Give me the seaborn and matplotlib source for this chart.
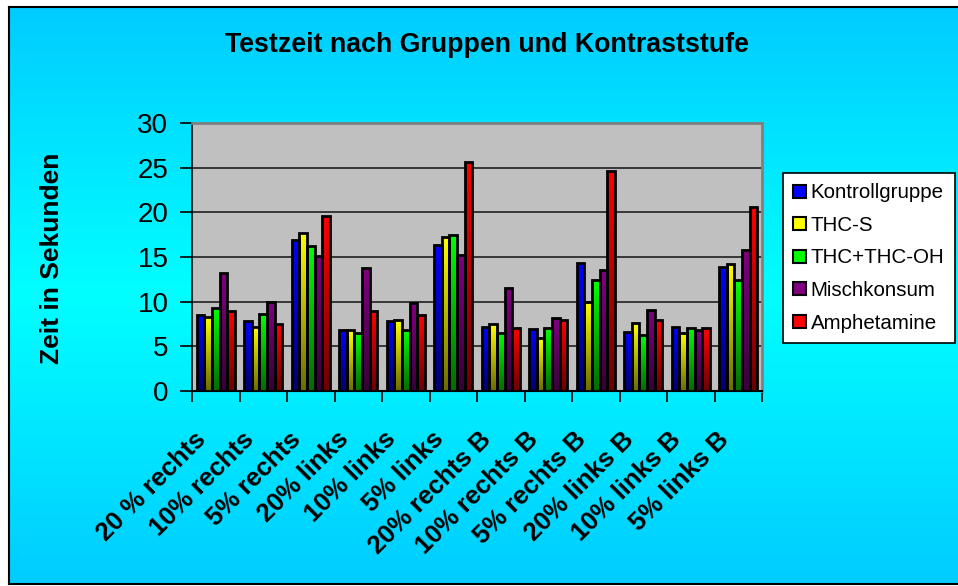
import numpy as np
import pandas as pd
import matplotlib
matplotlib.use("Agg")
import matplotlib.pyplot as plt
import matplotlib.transforms as mtransforms
import seaborn as sns
from matplotlib.colors import to_rgb
from matplotlib.patches import Rectangle

# Data
stufen = ["20 % rechts", "10% rechts", "5% rechts", "20% links", "10% links", "5% links",
          "20% rechts B", "10% rechts B", "5% rechts B", "20% links B", "10% links B", "5% links B"]
gruppen = ["Kontrollgruppe", "THC-S", "THC+THC-OH", "Mischkonsum", "Amphetamine"]
kontroll = [8.5, 7.8, 16.9, 6.8, 7.8, 16.3, 7.2, 6.9, 14.3, 6.6, 7.2, 13.9]
thc_s = [8.3, 7.2, 17.7, 6.8, 7.9, 17.2, 7.5, 5.9, 10.0, 7.6, 6.5, 14.2]
thc_oh = [9.3, 8.6, 16.2, 6.5, 6.8, 17.5, 6.5, 7.1, 12.4, 6.3, 7.1, 12.4]
misch = [13.2, 10.0, 15.1, 13.8, 9.9, 15.2, 11.5, 8.2, 13.6, 9.1, 6.8, 15.8]
amph = [9.0, 7.5, 19.6, 9.0, 8.5, 25.6, 7.0, 8.0, 24.6, 8.0, 7.0, 20.6]
farben = ["#0000FF", "#FFFF00", "#00FF00", "#800080", "#FF0000"]

df = pd.DataFrame({"Stufe": stufen * 5,
                   "Gruppe": np.repeat(gruppen, len(stufen)),
                   "Zeit": kontroll + thc_s + thc_oh + misch + amph})

plt.rcParams["font.family"] = ["Liberation Sans", "DejaVu Sans"]

fig = plt.figure(figsize=(9.58, 5.86), dpi=100, facecolor="white")

# cyan gradient background with black frame
bg = fig.add_axes([9 / 958, 1 - 584 / 586, 1 - 9 / 958, 577 / 586], zorder=-10)
t = np.linspace(0, 1, 300)
g = 0.80 + 0.20 * (1 - np.abs(t - 0.5) / 0.5)
grad = np.zeros((300, 1, 3))
grad[:, 0, 1] = g
grad[:, 0, 2] = 1.0
bg.imshow(grad, aspect="auto", extent=[0, 1, 0, 1], origin="upper")
bg.set_xticks([])
bg.set_yticks([])
for s in bg.spines.values():
    s.set_color("black")
    s.set_linewidth(1.5)
bg.spines["right"].set_visible(False)

ax = fig.add_axes([192 / 958, 1 - 391 / 586, 570 / 958, 268 / 586])
ax.set_facecolor("#C0C0C0")
sns.barplot(data=df, x="Stufe", y="Zeit", hue="Gruppe", palette=farben,
            width=0.8, edgecolor="black", linewidth=2, ax=ax, zorder=3)

# gradient fill in each bar: bright at top, dark at bottom
for cont, col in zip(ax.containers, farben):
    rgb = np.array(to_rgb(col))
    shade = np.linspace(1.0, 0.42, 100)[:, None] * rgb
    img = shade[:, None, :]
    for bar in cont:
        x, w, h = bar.get_x(), bar.get_width(), bar.get_height()
        im = ax.imshow(img, extent=[x, x + w, 0, h], aspect="auto", origin="upper", zorder=2.9)
        im.set_clip_path(bar)
        bar.set_facecolor("none")
ax.set_xlim(-0.5, len(stufen) - 0.5)
ax.set_ylim(0, 30)
ax.set_aspect("auto")

ax.set_yticks(range(0, 31, 5))
ax.yaxis.grid(True, color="#202020", linewidth=1.2, zorder=1)
ax.set_axisbelow(True)
ax.tick_params(axis="y", labelsize=20, length=9, width=1.2, direction="out", pad=8)

ax.set_xticks(np.arange(-0.5, len(stufen), 1), minor=True)
ax.set_xticks(range(len(stufen)))
ax.set_xticklabels(stufen, rotation=45, ha="right", rotation_mode="anchor",
                   fontsize=18.5, fontweight="bold")
ax.tick_params(axis="x", which="major", length=0, pad=26)
ax.tick_params(axis="x", which="minor", length=8, width=1.2, direction="out")
shift = mtransforms.ScaledTranslation(-22 / 100, 0, fig.dpi_scale_trans)
for lab in ax.get_xticklabels():
    lab.set_transform(lab.get_transform() + shift)

for side in ["top", "right"]:
    ax.spines[side].set_color("#808080")
    ax.spines[side].set_linewidth(2)
ax.spines["left"].set_color("black")
ax.spines["bottom"].set_color("black")
ax.spines["left"].set_linewidth(1.2)
ax.spines["bottom"].set_linewidth(1.5)

ax.set_xlabel("")
ax.set_ylabel("")
fig.text(52 / 958, 1 - 258 / 586, "Zeit in Sekunden", rotation=90, ha="center", va="center",
         fontsize=19, fontweight="bold")
fig.text(487 / 958, 1 - 45 / 586, "Testzeit nach Gruppen und Kontraststufe",
         ha="center", va="center", fontsize=19.3, fontweight="bold")

handles = [Rectangle((0, 0), 1, 1, facecolor=c, edgecolor="black", linewidth=1.5) for c in farben]
ax.legend_.remove()
leg = fig.legend(handles, gruppen, loc="upper left", bbox_to_anchor=(783 / 958, 1 - 173 / 586),
                 frameon=True, fancybox=False, framealpha=1, fontsize=14.8,
                 handlelength=0.6, handleheight=0.6, handletextpad=0.25, labelspacing=0.66,
                 borderpad=0.5, borderaxespad=0)
leg.get_frame().set_edgecolor("black")
leg.get_frame().set_linewidth(1.2)
leg.get_frame().set_facecolor("white")

fig.savefig("out.png", dpi=100, facecolor="white")
